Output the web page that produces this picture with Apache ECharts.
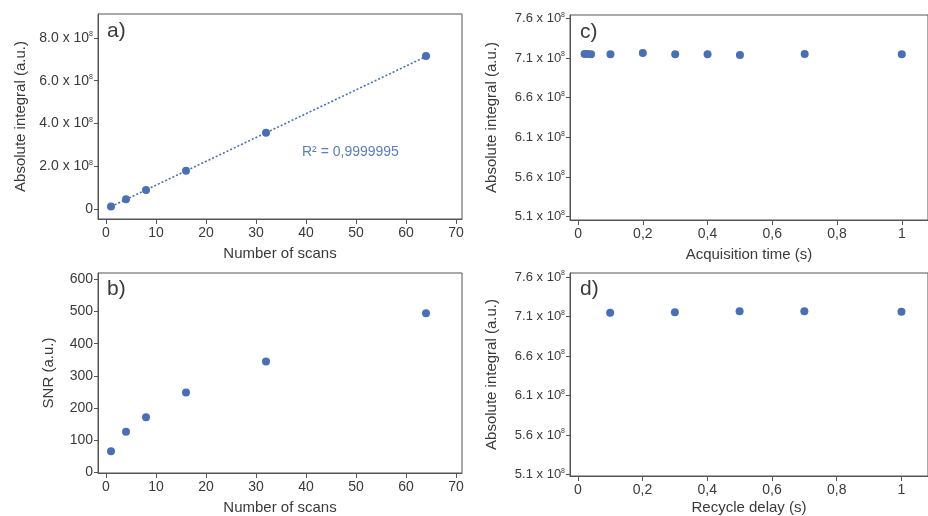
<!DOCTYPE html>
<html><head><meta charset="utf-8">
<script src="https://cdn.jsdelivr.net/npm/echarts@6/dist/echarts.min.js"></script>
<style>html,body{margin:0;padding:0;background:#fff}#c{width:928px;height:516px}</style>
</head><body><div id="c"></div>
<script>
// Panel a: absolute integral vs number of scans
const scansA = [1, 4, 8, 16, 32, 64];
const integralA = [0.11e8, 0.45e8, 0.89e8, 1.79e8, 3.56e8, 7.15e8];
const trendX = [1, 64];
const trendY = [0.11e8, 7.13e8];
// Panel b: SNR vs number of scans
const scansB = [1, 4, 8, 16, 32, 64];
const snrB = [66, 126, 171, 248, 345, 495];
// Panel c: absolute integral vs acquisition time
const acqTime = [0.02, 0.03, 0.04, 0.1, 0.2, 0.3, 0.4, 0.5, 0.7, 1];
const integralC = [7.152e8, 7.152e8, 7.148e8, 7.148e8, 7.163e8, 7.148e8, 7.148e8, 7.14e8, 7.15e8, 7.148e8];
// Panel d: absolute integral vs recycle delay
const recycleDelay = [0.1, 0.3, 0.5, 0.7, 1];
const integralD = [7.146e8, 7.153e8, 7.166e8, 7.166e8, 7.158e8];
// tick labels
const scanTicks = [0, 10, 20, 30, 40, 50, 60, 70];
const integralTicksA = [0, 2e8, 4e8, 6e8, 8e8];
const snrTicks = [0, 100, 200, 300, 400, 500, 600];
const timeTicks = [0, 0.2, 0.4, 0.6, 0.8, 1];
const integralTicksCD = [5.1e8, 5.6e8, 6.1e8, 6.6e8, 7.1e8, 7.6e8];
const rSquared = 'R² = 0,9999995';

const txt = '#3a3a3a', ax = '#555', blue = '#4a6fb3';
const font = 'Liberation Sans, Arial, sans-serif';
const rich = {sup: {fontSize: 7, padding: [0, 0, 7, 0], color: txt, fontFamily: font}};
const supFmt = d => v => v === 0 ? '0' : (v / 1e8).toFixed(d) + ' x 10{sup|8}';
const commaFmt = v => String(v).replace('.', ',');

function xAxis(gi, min, max, ticks, name, gap, fmt) {
  return {type: 'value', gridIndex: gi, min, max,
    name, nameLocation: 'middle', nameGap: gap,
    nameTextStyle: {color: txt, fontSize: 15, fontFamily: font},
    axisLine: {show: true, onZero: false, lineStyle: {color: ax, width: 1}},
    axisTick: {show: true, length: 5, inside: false, customValues: ticks, lineStyle: {color: ax}},
    axisLabel: {customValues: ticks, color: txt, fontSize: 14, fontFamily: font, margin: 7, formatter: fmt},
    splitLine: {show: false}};
}
function yAxis(gi, min, max, ticks, name, gap, fmt, fs) {
  return {type: 'value', gridIndex: gi, min, max,
    name, nameLocation: 'middle', nameGap: gap, nameRotate: 90,
    nameTextStyle: {color: txt, fontSize: 15, fontFamily: font},
    axisLine: {show: true, onZero: false, lineStyle: {color: ax, width: 1}},
    axisTick: {show: true, length: 4, inside: false, customValues: ticks, lineStyle: {color: ax}},
    axisLabel: {customValues: ticks, color: txt, fontSize: fs, fontFamily: font, margin: 5, formatter: fmt, rich},
    splitLine: {show: false}};
}
const gridStyle = {show: true, borderColor: ax, borderWidth: 1, backgroundColor: 'transparent'};
const panelTitle = (t, l, tp) => ({text: t, left: l, top: tp, textStyle: {fontSize: 21, fontWeight: 'normal', color: txt, fontFamily: font}, padding: 0});
const dot = {color: blue, opacity: 1};

const chart = echarts.init(document.getElementById('c'), null, {renderer: 'canvas'});
chart.setOption({
  animation: false,
  backgroundColor: '#fff',
  title: [
    panelTitle('a)', 107, 21), panelTitle('b)', 107, 279),
    panelTitle('c)', 580, 22), panelTitle('d)', 580, 279),
    {text: rSquared, left: 302, top: 145, padding: 0, textStyle: {fontSize: 14, fontWeight: 'normal', color: '#5a7fc0', fontFamily: font}}
  ],
  grid: [
    Object.assign({left: 98, top: 14, width: 364, height: 205}, gridStyle),
    Object.assign({left: 98, top: 273, width: 364, height: 203}, gridStyle),
    Object.assign({left: 570, top: 15, width: 366, height: 205}, gridStyle),
    Object.assign({left: 570, top: 273, width: 366, height: 205}, gridStyle)
  ],
  xAxis: [
    xAxis(0, -1.6, 71.2, scanTicks, 'Number of scans', 27),
    xAxis(1, -1.6, 71.2, scanTicks, 'Number of scans', 27),
    xAxis(2, -0.025, 1.081, timeTicks, 'Acquisition time (s)', 27, commaFmt),
    xAxis(3, -0.024, 1.082, timeTicks, 'Recycle delay (s)', 24, commaFmt)
  ],
  yAxis: [
    yAxis(0, -0.47e8, 9.12e8, integralTicksA, 'Absolute integral (a.u.)', 70, supFmt(1), 14),
    yAxis(1, -2, 620, snrTicks, 'SNR (a.u.)', 42, null, 14),
    yAxis(2, 5.058e8, 7.643e8, integralTicksCD, 'Absolute integral (a.u.)', 71, supFmt(1), 13),
    yAxis(3, 5.08e8, 7.65e8, integralTicksCD, 'Absolute integral (a.u.)', 71, supFmt(1), 13)
  ],
  series: [
    {type: 'line', xAxisIndex: 0, yAxisIndex: 0, data: trendX.map((x, i) => [x, trendY[i]]),
      showSymbol: false, lineStyle: {color: blue, width: 1.6, type: [2, 2]}, z: 1},
    {type: 'scatter', xAxisIndex: 0, yAxisIndex: 0, data: scansA.map((x, i) => [x, integralA[i]]),
      symbolSize: 8, itemStyle: dot, z: 2},
    {type: 'scatter', xAxisIndex: 1, yAxisIndex: 1, data: scansB.map((x, i) => [x, snrB[i]]),
      symbolSize: 8, itemStyle: dot},
    {type: 'scatter', xAxisIndex: 2, yAxisIndex: 2, data: acqTime.map((x, i) => [x, integralC[i]]),
      symbolSize: 8, itemStyle: dot},
    {type: 'scatter', xAxisIndex: 3, yAxisIndex: 3, data: recycleDelay.map((x, i) => [x, integralD[i]]),
      symbolSize: 8, itemStyle: dot}
  ]
});
</script></body></html>
